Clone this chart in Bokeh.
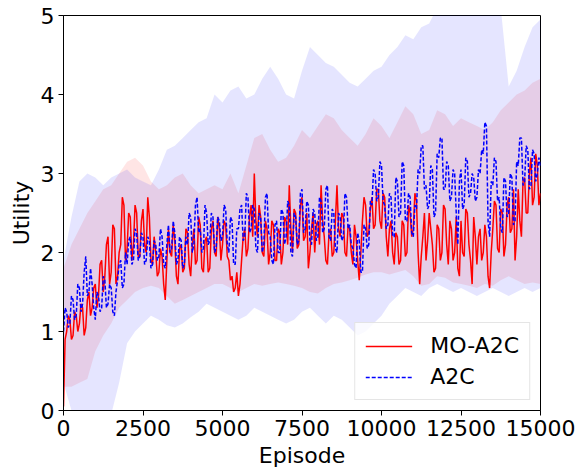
from bokeh.plotting import figure
from bokeh.models import FixedTicker, Legend, LegendItem, Range1d
from bokeh.embed import file_html
from bokeh.resources import INLINE

# ---- data ----
episodes = list(range(0, 15001, 50))
mo_a2c = [
    0.05, 0.9, 1.0, 1.2, 1.15, 0.9, 0.95, 1.25, 1.2, 1.0,
    1.1, 1.35, 1.3, 0.95, 1.05, 1.4, 1.5, 1.2, 1.3, 1.55,
    1.6, 1.3, 1.45, 1.85, 1.9, 1.5, 1.7, 2.1, 2.2, 1.6,
    1.75, 2.35, 2.3, 1.6, 1.7, 2.0, 2.1, 2.7, 2.6, 1.9,
    2.05, 2.5, 2.45, 1.9, 2.1, 2.6, 2.5, 1.95, 1.95, 2.4,
    2.55, 2.1, 2.0, 2.7, 2.45, 1.9, 1.85, 2.2, 2.0, 1.7,
    1.75, 2.05, 1.95, 1.6, 1.4, 1.9, 2.3, 2.0, 1.95, 2.35,
    2.15, 1.7, 1.6, 2.05, 2.1, 1.75, 1.8, 2.3, 2.25, 1.85,
    1.7, 2.1, 2.3, 1.85, 1.9, 2.45, 2.35, 1.8, 1.75, 2.15,
    2.2, 1.75, 1.8, 2.3, 2.4, 2.0, 1.95, 2.45, 2.3, 1.9,
    2.1, 2.4, 2.35, 1.95, 1.9, 1.65, 1.7, 1.5, 1.55, 1.75,
    1.45, 1.6, 1.9, 2.2, 2.3, 1.95, 2.05, 2.45, 2.6, 2.2,
    3.0, 2.4, 2.2, 2.6, 2.45, 2.0, 1.95, 2.4, 2.3, 1.85,
    2.0, 2.4, 2.35, 1.9, 1.9, 2.3, 2.25, 1.85, 2.0, 2.45,
    2.4, 2.1, 2.85, 2.3, 2.0, 2.55, 2.5, 2.05, 2.1, 2.6,
    2.7, 2.15, 2.2, 2.5, 1.8, 2.0, 2.3, 2.5, 2.0, 2.35,
    2.4, 2.1, 2.85, 2.4, 2.2, 1.9, 1.85, 2.25, 2.3, 1.95,
    2.0, 2.4, 2.85, 2.3, 2.2, 2.5, 2.45, 2.0, 1.95, 2.35,
    2.3, 2.0, 1.85, 2.35, 2.2, 1.9, 1.65, 2.0, 2.4, 2.7,
    2.6, 2.2, 2.25, 2.55, 2.7, 2.3, 2.35, 2.8, 2.8, 2.4,
    2.3, 2.75, 2.7, 2.2, 1.95, 2.3, 2.4, 2.0, 1.85, 2.25,
    2.2, 1.85, 1.9, 2.4, 2.35, 1.95, 2.0, 2.6, 2.5, 2.2,
    2.3, 2.75, 2.65, 2.0, 1.6, 1.95, 2.2, 2.5, 1.9, 2.15,
    2.5, 2.3, 2.1, 1.75, 1.8, 2.35, 2.3, 1.9, 2.0, 2.6,
    2.55, 2.1, 1.85, 2.4, 2.3, 1.9, 2.0, 2.45, 1.8, 1.7,
    2.4, 2.0, 1.95, 2.55, 2.5, 2.1, 1.9, 1.6, 2.45, 2.2,
    1.85, 2.2, 2.3, 1.9, 2.0, 2.35, 2.2, 1.7, 1.55, 2.0,
    2.3, 2.65, 2.6, 2.05, 2.0, 2.55, 2.5, 1.95, 2.1, 2.6,
    2.7, 2.25, 2.3, 2.8, 1.9, 2.2, 2.8, 2.4, 2.2, 2.9,
    2.95, 2.5, 2.5, 3.0, 3.2, 2.6, 2.7, 3.25, 3.1, 2.6,
    2.75,
]
a2c = [
    1.0, 1.3, 1.25, 1.05, 1.1, 1.45, 1.4, 1.15, 1.2, 1.6,
    1.55, 1.25, 1.35, 1.75, 1.95, 1.45, 1.5, 1.8, 1.6, 1.3,
    1.15, 1.5, 1.45, 1.25, 1.3, 1.7, 1.65, 1.3, 1.35, 1.6,
    1.55, 1.25, 1.2, 1.5, 1.65, 1.85, 1.9, 1.55, 1.6, 2.0,
    1.85, 2.15, 2.2, 1.85, 1.9, 2.3, 2.25, 1.9, 1.95, 2.25,
    2.2, 1.85, 1.9, 2.2, 2.15, 1.8, 1.85, 2.15, 2.1, 1.9,
    1.95, 2.3, 2.2, 1.85, 1.8, 2.1, 2.35, 2.0, 2.05, 2.4,
    2.25, 1.85, 1.9, 2.2, 2.15, 1.8, 1.85, 2.2, 2.1, 2.5,
    2.45, 2.0, 2.1, 2.6, 2.7, 2.25, 2.3, 2.0, 2.05, 2.6,
    2.5, 2.1, 2.15, 2.5, 2.45, 2.0, 2.05, 2.45, 2.4, 2.15,
    2.2, 2.6, 2.55, 2.1, 2.0, 2.45, 2.4, 1.85, 1.85, 2.3,
    2.3, 2.55, 2.6, 2.15, 2.2, 2.75, 2.7, 2.25, 2.3, 2.6,
    2.55, 2.05, 2.0, 2.5, 2.45, 2.0, 2.1, 2.7, 2.75, 2.25,
    2.2, 1.9, 1.85, 2.35, 2.4, 2.0, 2.0, 2.55, 2.5, 2.1,
    2.2, 2.65, 2.6, 2.0, 1.95, 2.5, 2.45, 2.1, 2.15, 2.75,
    2.8, 2.25, 2.3, 2.65, 2.6, 2.15, 2.1, 2.55, 2.5, 2.15,
    2.2, 2.7, 2.65, 2.25, 2.3, 2.8, 2.85, 2.2, 2.15, 2.55,
    2.5, 2.05, 2.0, 2.5, 2.45, 2.15, 2.2, 2.75, 2.7, 2.3,
    2.35, 2.1, 2.05, 1.85, 1.8, 2.25, 2.15, 1.75, 1.75, 2.35,
    2.3, 2.05, 2.1, 2.65, 2.6, 3.05, 3.0, 2.65, 2.7, 3.15,
    3.1, 2.65, 2.6, 2.3, 2.35, 2.75, 2.7, 2.2, 2.2, 2.95,
    2.9, 2.45, 2.5, 3.15, 3.1, 2.4, 2.4, 2.75, 2.7, 2.25,
    2.2, 2.6, 2.55, 3.05, 3.0, 3.35, 3.35, 2.8, 2.85, 2.55,
    2.6, 3.1, 3.05, 2.45, 2.5, 3.25, 3.2, 3.45, 3.45, 2.8,
    2.8, 3.15, 3.1, 2.65, 2.7, 3.05, 3.0, 2.5, 2.1, 2.9,
    3.05, 2.55, 2.6, 3.2, 3.15, 2.7, 2.75, 3.0, 2.95, 2.65,
    2.7, 3.05, 3.0, 3.3, 3.25, 3.65, 3.6, 2.4, 2.2, 2.9,
    2.85, 3.2, 3.15, 2.65, 2.7, 2.3, 2.25, 2.95, 2.9, 2.45,
    2.5, 3.0, 2.95, 2.35, 2.4, 3.15, 3.1, 3.45, 3.45, 2.85,
    2.9, 3.35, 3.3, 2.8, 2.85, 3.3, 3.25, 2.9, 3.0, 3.2,
    3.1,
]

band_episodes = list(range(0, 15001, 250))
a2c_upper = [
    1.9, 2.45, 2.9, 3.0, 2.95, 2.85, 2.95, 3.0, 3.05, 2.95,
    2.9, 2.85, 3.05, 3.3, 3.35, 3.45, 3.55, 3.65, 3.7, 4.0,
    3.9, 4.05, 4.1, 3.95, 4.0, 4.2, 4.35, 4.2, 4.0, 3.95,
    4.3, 4.6, 4.5, 4.4, 4.35, 4.25, 4.15, 4.1, 4.2, 4.3,
    4.35, 4.5, 4.6, 4.75, 4.7, 4.85, 4.9, 5.1, 5.2, 5.3,
    5.3, 5.35, 5.3, 5.3, 5.2, 5.1, 4.1, 4.3, 4.6, 4.85,
    4.95,
]
a2c_lower = [
    0.35, 0.0, -0.2, -0.3, -0.3, -0.2, -0.05, 0.35, 0.85, 1.0,
    1.1, 1.2, 1.15, 1.08, 1.05, 1.1, 1.18, 1.25, 1.35, 1.3,
    1.25, 1.2, 1.15, 1.2, 1.3, 1.25, 1.2, 1.15, 1.1, 1.15,
    1.25, 1.3, 1.2, 1.1, 1.2, 1.15, 1.05, 0.95, 1.0, 1.1,
    1.2, 1.35, 1.45, 1.55, 1.5, 1.45, 1.55, 1.6, 1.55, 1.5,
    1.55, 1.5, 1.45, 1.5, 1.55, 1.5, 1.45, 1.5, 1.55, 1.5,
    1.55,
]
mo_a2c_upper = [
    1.8, 2.1, 2.3, 2.5, 2.65, 2.8, 2.85, 3.0, 3.15, 3.2,
    3.1, 2.9, 2.8, 2.85, 2.95, 3.0, 2.85, 2.75, 2.8, 2.85,
    2.8, 3.0, 2.75, 3.1, 3.45, 3.5, 3.3, 3.15, 3.2, 3.35,
    3.55, 3.45, 3.6, 3.75, 3.7, 3.55, 3.45, 3.35, 3.5, 3.7,
    3.6, 3.45, 3.65, 3.85, 3.75, 3.5, 3.55, 3.8, 3.75, 3.6,
    3.7, 3.65, 3.6, 3.55, 3.65, 3.8, 3.9, 4.0, 4.05, 4.15,
    4.2,
]
mo_a2c_lower = [
    0.3, 0.3, 0.35, 0.4, 0.75, 0.95, 1.1, 1.3, 1.4, 1.5,
    1.55, 1.58, 1.55, 1.45, 1.35, 1.4, 1.45, 1.5, 1.55, 1.6,
    1.6, 1.55, 1.5, 1.55, 1.6, 1.58, 1.6, 1.62, 1.6, 1.58,
    1.55, 1.5, 1.48, 1.55, 1.6, 1.62, 1.65, 1.68, 1.72, 1.75,
    1.75, 1.72, 1.75, 1.78, 1.7, 1.58, 1.6, 1.7, 1.68, 1.62,
    1.6, 1.58, 1.55, 1.6, 1.58, 1.65, 1.7, 1.65, 1.6, 1.62,
    1.6,
]

x_ticks = [0, 2500, 5000, 7500, 10000, 12500, 15000]
y_ticks = [0, 1, 2, 3, 4, 5]

FONT = "DejaVu Sans"

p = figure(
    width=579, height=473,
    frame_width=477, frame_height=395,
    min_border_left=63, min_border_right=39,
    min_border_top=15, min_border_bottom=63,
    x_range=Range1d(0, 15000), y_range=Range1d(0, 5),
    output_backend="svg", toolbar_location=None,
    background_fill_color="white", border_fill_color="white",
)
p.grid.visible = False
p.outline_line_color = "black"
p.outline_line_width = 1

# bands
p.varea(x=band_episodes, y1=mo_a2c_lower, y2=mo_a2c_upper,
        fill_color="red", fill_alpha=0.1)
p.varea(x=band_episodes, y1=a2c_lower, y2=a2c_upper,
        fill_color="blue", fill_alpha=0.1)

r_mo = p.line(episodes, mo_a2c, line_color="red", line_width=1.5)
r_a2c = p.line(episodes, a2c, line_color="blue", line_width=1.5,
               line_dash="4 2")

for ax in (p.xaxis[0], p.yaxis[0]):
    ax.major_label_text_font = FONT
    ax.major_label_text_font_size = "22px"
    ax.major_label_text_color = "black"
    ax.axis_label_text_font = FONT
    ax.axis_label_text_font_size = "22px"
    ax.axis_label_text_font_style = "normal"
    ax.axis_label_text_color = "black"
    ax.axis_line_color = "black"
    ax.major_tick_line_color = "black"
    ax.major_tick_out = 5
    ax.major_tick_in = 0
    ax.minor_tick_line_color = None
    ax.major_label_standoff = 4
    ax.axis_label_standoff = 4

p.xaxis[0].ticker = FixedTicker(ticks=x_ticks)
p.yaxis[0].ticker = FixedTicker(ticks=y_ticks)
p.xaxis[0].axis_label = "Episode"
p.yaxis[0].axis_label = "Utility"

legend = Legend(
    items=[LegendItem(label="MO-A2C", renderers=[r_mo]),
           LegendItem(label="A2C", renderers=[r_a2c])],
    location="bottom_right",
    label_text_font=FONT, label_text_font_size="22px",
    label_text_color="black",
    glyph_width=47, glyph_height=22, label_standoff=18,
    spacing=6, padding=10, margin=10,
    border_line_color="#cccccc", border_line_width=1,
    background_fill_color="white", background_fill_alpha=0.8,
)
p.add_layout(legend)

open("out.html", "w").write(file_html(p, INLINE))
